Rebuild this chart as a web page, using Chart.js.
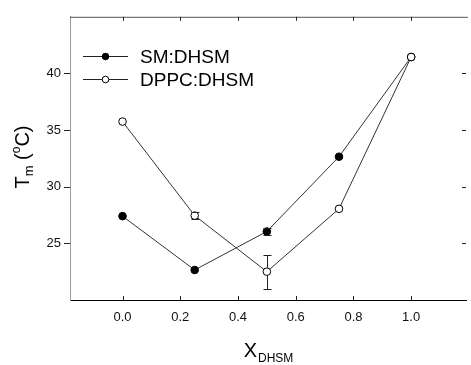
<!DOCTYPE html>
<html>
<head>
<meta charset="utf-8">
<script src="https://cdn.jsdelivr.net/npm/chart.js@4/dist/chart.umd.min.js"></script>
<style>
  html, body { margin: 0; padding: 0; background: #fff; }
  #wrap { width: 471px; height: 365px; position: relative; }
</style>
</head>
<body>
<div id="wrap"><canvas id="my-chart" width="471" height="365"></canvas></div>
<script>
'use strict';

// ***** DATA *****

let xValues = [0, 0.25, 0.5, 0.75, 1.0];
let smValues = [27.4, 22.65, 26.05, 32.65, 41.45];
let smErrors = [0.1, 0.15, 0.35, 0.1, 0.1];
let dppcValues = [35.75, 27.45, 22.5, 28.05, 41.45];
let dppcErrors = [0.15, 0.32, 1.5, 0.1, 0.1];
let seriesNames = ['SM:DHSM', 'DPPC:DHSM'];
let xTicks = [0, 0.2, 0.4, 0.6, 0.8, 1.0];
let yTicks = [25, 30, 35, 40];

let FONT = '"Liberation Sans", Arial, sans-serif';

function toPoints(ys, errs){
  let pts = [];
  for(let i = 0; i < xValues.length; i++){
    pts.push({x: xValues[i], y: ys[i], err: errs[i]});
  }
  return pts;
}

// ***** PLUGINS *****

// error bars with caps, drawn over the markers
let errorBars = {
  id: 'errorBars',
  afterDatasetsDraw(chart){
    let ctx = chart.ctx;
    let xs = chart.scales.x;
    let ys = chart.scales.y;
    ctx.save();
    ctx.strokeStyle = '#222';
    ctx.lineWidth = 1;
    chart.data.datasets.forEach(ds => {
      ds.data.forEach(p => {
        if(p.err < 0.25){ return; }
        let px = Math.round(xs.getPixelForValue(p.x)) + 0.5;
        let top = Math.round(ys.getPixelForValue(p.y + p.err)) + 0.5;
        let bot = Math.round(ys.getPixelForValue(p.y - p.err)) + 0.5;
        let r = 3.8;
        let mid = ys.getPixelForValue(p.y);
        ctx.beginPath();
        if(top < mid - r){ ctx.moveTo(px, top); ctx.lineTo(px, mid - r); }
        if(bot > mid + r){ ctx.moveTo(px, mid + r); ctx.lineTo(px, bot); }
        ctx.moveTo(px - 4, top); ctx.lineTo(px + 4, top);
        ctx.moveTo(px - 4, bot); ctx.lineTo(px + 4, bot);
        ctx.stroke();
      });
    });
    ctx.restore();
  }
};

// frame ticks, top line, titles and legend
let frame = {
  id: 'frame',
  afterDraw(chart){
    let ctx = chart.ctx;
    let a = chart.chartArea;
    let xs = chart.scales.x;
    let ys = chart.scales.y;
    ctx.save();
    ctx.lineWidth = 1;

    // top line
    ctx.strokeStyle = '#555';
    ctx.beginPath();
    ctx.moveTo(a.left, a.top + 0.5); ctx.lineTo(a.right + 2, a.top + 0.5);
    ctx.stroke();

    // x ticks (inward, bottom and top)
    ctx.strokeStyle = '#222';
    ctx.beginPath();
    xTicks.forEach(v => {
      let px = Math.round(xs.getPixelForValue(v)) + 0.5;
      ctx.moveTo(px, a.bottom); ctx.lineTo(px, a.bottom - 4);
      ctx.moveTo(px, a.top); ctx.lineTo(px, a.top + 4);
    });
    // y ticks (outward left, inward right)
    yTicks.forEach(v => {
      let py = Math.round(ys.getPixelForValue(v)) + 0.5;
      ctx.moveTo(a.left, py); ctx.lineTo(a.left - 6, py);
      ctx.moveTo(a.right, py); ctx.lineTo(a.right - 4, py);
    });
    ctx.stroke();

    // y title: T_m (oC)
    ctx.fillStyle = '#000';
    ctx.textBaseline = 'alphabetic';
    ctx.save();
    ctx.translate(29, 157);
    ctx.rotate(-Math.PI / 2);
    let parts = [
      {t: 'T', f: 20, dy: 0},
      {t: 'm', f: 13, dy: 4},
      {t: ' (', f: 20, dy: 0},
      {t: 'o', f: 12, dy: -9},
      {t: 'C)', f: 20, dy: 0}
    ];
    let total = 0;
    parts.forEach(p => { ctx.font = p.f + 'px ' + FONT; p.w = ctx.measureText(p.t).width; total += p.w; });
    let cx = -total / 2;
    parts.forEach(p => { ctx.font = p.f + 'px ' + FONT; ctx.fillText(p.t, cx, p.dy); cx += p.w; });
    ctx.restore();

    // x title: X_DHSM
    ctx.font = '20px ' + FONT;
    let wX = ctx.measureText('X').width;
    ctx.font = '12px ' + FONT;
    let wS = ctx.measureText('DHSM').width;
    let sx = 268 - (wX + wS) / 2;
    ctx.font = '20px ' + FONT;
    ctx.fillText('X', sx, 357);
    ctx.font = '12px ' + FONT;
    ctx.fillText('DHSM', sx + wX + 1, 362);

    // legend
    let rows = [56.5, 79.5];
    chart.data.datasets.forEach((ds, i) => {
      let y = rows[i];
      ctx.strokeStyle = '#222';
      ctx.beginPath();
      ctx.moveTo(83, y); ctx.lineTo(128, y);
      ctx.stroke();
      ctx.beginPath();
      ctx.arc(105.5, y, 3.3, 0, Math.PI * 2);
      ctx.fillStyle = ds.pointBackgroundColor;
      ctx.fill();
      ctx.strokeStyle = '#000';
      ctx.stroke();
      ctx.fillStyle = '#000';
      ctx.font = '19px ' + FONT;
      ctx.textBaseline = 'middle';
      ctx.fillText(ds.label, 140, y + 1);
    });
    ctx.restore();
  }
};

// ***** CHART *****

let ctx = document.getElementById('my-chart').getContext('2d');

let myChartObj = {
  type: 'scatter',
  data: {
    datasets: [{
      label: seriesNames[0],
      data: toPoints(smValues, smErrors),
      order: 1,
      showLine: true,
      borderColor: '#333',
      borderWidth: 1,
      pointRadius: 3.8,
      pointBackgroundColor: '#000',
      pointBorderColor: '#000',
      pointBorderWidth: 1
    },
    {
      label: seriesNames[1],
      data: toPoints(dppcValues, dppcErrors),
      order: 0,
      showLine: true,
      borderColor: '#333',
      borderWidth: 1,
      pointRadius: 3.8,
      pointBackgroundColor: '#fff',
      pointBorderColor: '#000',
      pointBorderWidth: 1
    }]
  },
  options: {
    responsive: false,
    animation: false,
    layout: { padding: { top: 14, right: 1, left: 0, bottom: 0 } },
    plugins: {
      legend: { display: false },
      tooltip: { enabled: false }
    },
    scales: {
      x: {
        type: 'linear',
        min: -0.182,
        max: 1.19,
        afterBuildTicks: s => { s.ticks = xTicks.map(v => ({value: v})); },
        afterFit: s => { s.height = 65; },
        grid: { display: false, drawTicks: false },
        border: { display: true, color: '#000', width: 1 },
        ticks: {
          padding: 10,
          color: '#111',
          font: { family: FONT, size: 13 },
          callback: v => Number(v).toFixed(1)
        }
      },
      y: {
        min: 20,
        max: 45,
        afterBuildTicks: s => { s.ticks = yTicks.map(v => ({value: v})); },
        afterFit: s => { s.width = 70; },
        grid: { display: false, drawTicks: false },
        border: { display: true, color: '#999', width: 1 },
        ticks: {
          padding: 9,
          color: '#111',
          font: { family: FONT, size: 13 },
          callback: v => String(v)
        }
      }
    }
  },
  plugins: [errorBars, frame]
};

new Chart(ctx, myChartObj);
</script>
</body>
</html>
